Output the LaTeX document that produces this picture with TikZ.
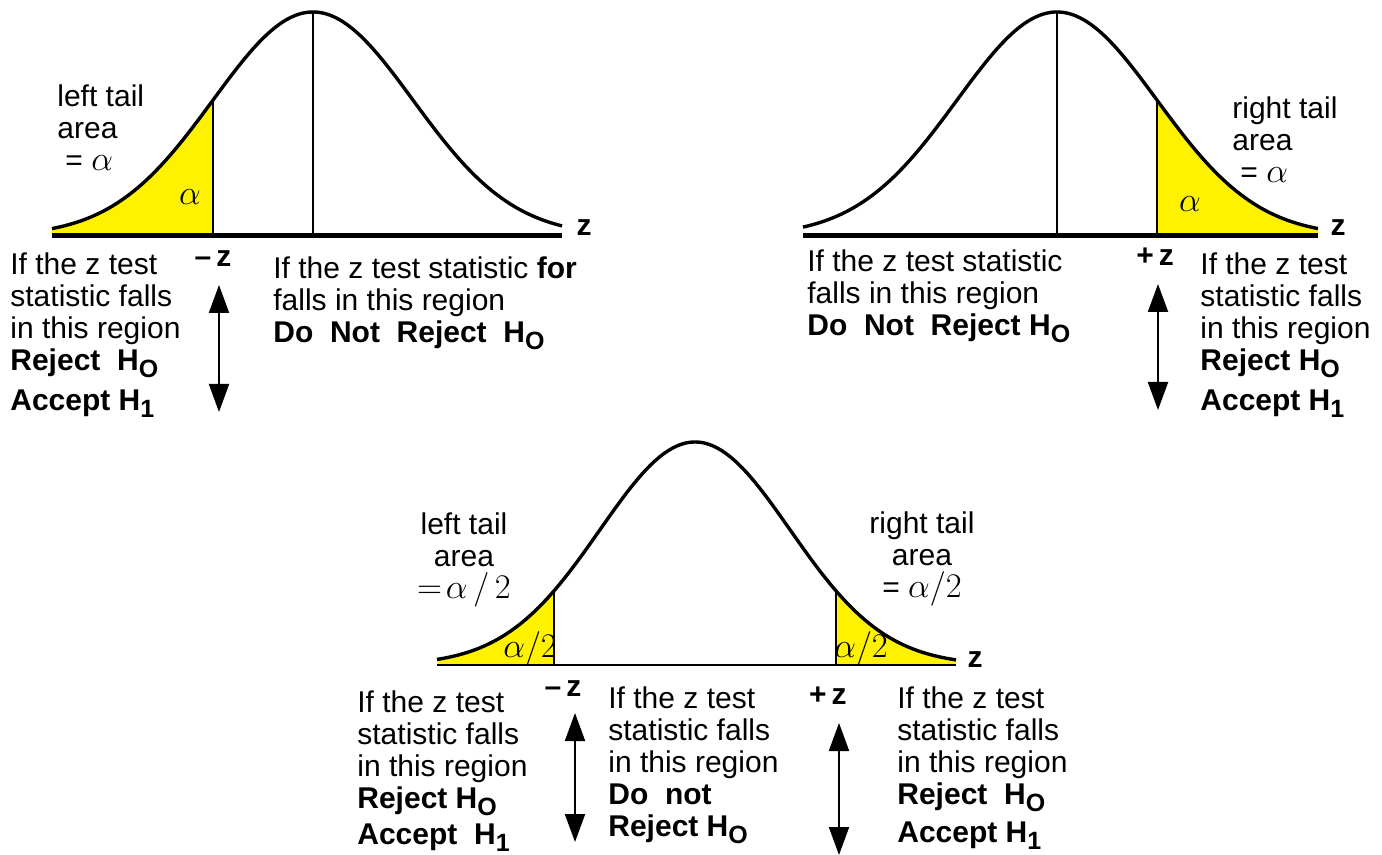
\documentclass[tikz,border=0pt]{standalone}
\usepackage{fontspec}
\setmainfont{Liberation Sans}
\usetikzlibrary{positioning, arrows.meta}

\newcommand{\lowsub}[1]{\raisebox{-0.45ex}{\fontsize{12.5}{12.5}\selectfont #1}}

\begin{document}
\begin{tikzpicture}[
    x=0.5pt, y=-0.5pt,
    declare function={gauss(\t)=exp(-0.5*\t*\t);},
    every node/.style={inner sep=0pt, font=\fontsize{15}{16}\selectfont},
    lbl/.style={anchor=north west, align=left},
    tail/.style={anchor=north, align=center},
    crit/.style={font=\fontsize{15}{16}\selectfont\bfseries},
    greek/.style={font=\fontsize{18}{18}\selectfont},
    curve/.style={line width=1.7pt, line join=round},
    axis/.style={line width=2.5pt},
    thinaxis/.style={line width=1.2pt},
    cut/.style={line width=1pt},
    tailarea/.style={fill=yellow},
    arrow/.style={{Triangle[length=14pt,width=10pt]}-{Triangle[length=14pt,width=10pt]}, line width=1pt}]

  \useasboundingbox (0,0) rectangle (1382,855);

  % left tailed test
  \fill[tailarea] (52,236) -- plot[domain=52:213, samples=60] (\x,{236-224*gauss((\x-313)/100)}) -- (213,236) -- cycle;
  \draw[cut] (213,236) -- (213,{236-224*gauss(-1)});
  \draw[cut] (313,236) -- (313,12);
  \draw[curve] plot[domain=52:562, samples=120] (\x,{236-224*gauss((\x-313)/100)});
  \draw[axis] (52,236) -- (562,236);

  \node[lbl] (ltArea) at (57,84) {left tail\\area\\\hspace*{4pt}= {\fontsize{18}{16}\selectfont$\alpha$}};
  \node[greek] (ltAlpha) at (190,197) {$\alpha$};
  \node[crit] (ltAxis) at (584,228) {z};
  \node[crit] (ltCrit) at (213,259) {–\,z};
  \node[lbl] (ltReject) at (10,252) {If the z test\\statistic falls\\in this region\\\textbf{Reject\ \ H\lowsub{O}}\\[4pt]\textbf{Accept\ H\lowsub{1}}};
  \node[lbl] (ltKeep) at (273,256) {If the z test statistic \textbf{for}\\falls in this region\\\textbf{Do\ \ Not\ \ Reject\ \ H\lowsub{O}}};
  \coordinate (ltTop) at (219,285);
  \coordinate (ltBot) at (219,412);
  \draw[arrow] (ltTop) -- (ltBot);

  % right tailed test
  \fill[tailarea] (1157,236) -- plot[domain=1157:1318, samples=60] (\x,{236-224*gauss((\x-1057)/100)}) -- (1318,236) -- cycle;
  \draw[cut] (1157,236) -- (1157,{236-224*gauss(1)});
  \draw[cut] (1057,236) -- (1057,12);
  \draw[curve] plot[domain=803:1318, samples=120] (\x,{236-224*gauss((\x-1057)/100)});
  \draw[axis] (803,236) -- (1318,236);

  \node[lbl] (rtArea) at (1232,96) {right tail\\area\\\hspace*{4pt}= {\fontsize{18}{16}\selectfont$\alpha$}};
  \node[greek] (rtAlpha) at (1190,204) {$\alpha$};
  \node[crit] (rtAxis) at (1338,228) {z};
  \node[crit] (rtCrit) at (1155,257) {+\,z};
  \node[lbl] (rtKeep) at (807,249) {If the z test statistic\\falls in this region\\\textbf{Do\ \ Not\ \ Reject\ H\lowsub{O}}};
  \node[lbl] (rtReject) at (1200,252) {If the z test\\statistic falls\\in this region\\\textbf{Reject\ H\lowsub{O}}\\[4pt]\textbf{Accept\ H\lowsub{1}}};
  \coordinate (rtTop) at (1158,284);
  \coordinate (rtBot) at (1158,410);
  \draw[arrow] (rtTop) -- (rtBot);

  % two tailed test
  \fill[tailarea] (437,665) -- plot[domain=437:554, samples=50] (\x,{665-223*gauss((\x-695)/95)}) -- (554,665) -- cycle;
  \fill[tailarea] (836,665) -- plot[domain=836:956, samples=50] (\x,{665-223*gauss((\x-695)/95)}) -- (956,665) -- cycle;
  \draw[cut] (554,665) -- (554,{665-223*gauss(-141/95)});
  \draw[cut] (836,665) -- (836,{665-223*gauss(141/95)});
  \draw[curve] plot[domain=437:956, samples=120] (\x,{665-223*gauss((\x-695)/95)});
  \draw[thinaxis] (437,665) -- (956,665);

  \node[tail] (btLeftArea) at (464,512) {left tail\\area\\{\fontsize{17}{16}\selectfont$=\!\alpha\,/\,2$}};
  \node[tail] (btRightArea) at (922,511) {right tail\\area\\= {\fontsize{17}{16}\selectfont$\alpha/2$}};
  \node[greek] (btLeftAlpha) at (530,649) {$\alpha/2$};
  \node[greek] (btRightAlpha) at (861,649) {$\alpha/2$};
  \node[crit] (btAxis) at (975,660) {z};
  \node[crit] (btLeftCrit) at (563,689) {–\,z};
  \node[crit] (btRightCrit) at (828,696) {+\,z};
  \node[lbl] (btLeftReject) at (357,690) {If the z test\\statistic falls\\in this region\\\textbf{Reject\ H\lowsub{O}}\\[2pt]\textbf{Accept\ \ H\lowsub{1}}};
  \node[lbl] (btKeep) at (608,686) {If the z test\\statistic falls\\in this region\\\textbf{Do\ \ not}\\\textbf{Reject\ H\lowsub{O}}};
  \node[lbl] (btRightReject) at (897,686) {If the z test\\statistic falls\\in this region\\\textbf{Reject\ \ H\lowsub{O}}\\[3pt]\textbf{Accept\ H\lowsub{1}}};
  \coordinate (btLeftTop) at (575,713);
  \coordinate (btLeftBot) at (575,842);
  \draw[arrow] (btLeftTop) -- (btLeftBot);
  \coordinate (btRightTop) at (839,723);
  \coordinate (btRightBot) at (839,855);
  \draw[arrow] (btRightTop) -- (btRightBot);
\end{tikzpicture}
\end{document}
